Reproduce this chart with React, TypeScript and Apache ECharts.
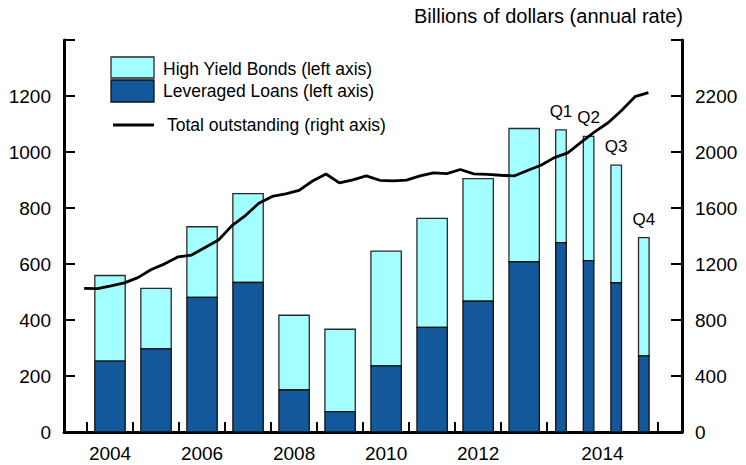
import React, { useEffect, useRef } from "react";
import * as echarts from "echarts";

// ---------- Data ----------
const years = ["2004", "2005", "2006", "2007", "2008", "2009", "2010", "2011", "2012", "2013"];
const annualLeveragedLoans = [253, 297, 481, 534, 150, 73, 236, 374, 467, 608];
const annualHighYieldBonds = [306, 216, 252, 317, 267, 294, 410, 389, 438, 476];

const quarters2014 = ["Q1", "Q2", "Q3", "Q4"];
const quarterLeveragedLoans = [676, 612, 533, 272];
const quarterHighYieldBonds = [403, 444, 420, 422];

// Total outstanding, quarterly 2004Q1 .. 2014Q3 (right axis)
const totalOutstanding = [
  1026, 1024, 1044, 1065, 1103, 1161, 1201, 1251, 1264, 1318, 1372, 1474,
  1546, 1634, 1683, 1701, 1726, 1793, 1843, 1779, 1801, 1829, 1798, 1794,
  1799, 1829, 1851, 1846, 1875, 1844, 1840, 1834, 1829, 1868, 1905, 1960,
  1994, 2071, 2144, 2209, 2297, 2395, 2424,
];

const xTickLabels = ["2004", "2006", "2008", "2010", "2012", "2014"];
const leftTickLabels = ["0", "200", "400", "600", "800", "1000", "1200", ""];
const rightTickLabels = ["0", "400", "800", "1200", "1600", "2000", "2200", ""];

// ---------- Layout (axis units: one annual slot = 1) ----------
const LEAD = 0.5;          // space before the first year
const QUARTER_SLOT = 0.6;  // width of a quarter slot in 2014
const X_MAX = 13.43;
const ANNUAL_BAR_W = 0.66;
const QUARTER_BAR_W = 0.23;

const HY_COLOR = "#A3FFFF";
const LL_COLOR = "#14589C";
const FONT = "Liberation Sans, Arial, sans-serif";

export default function App() {
  const ref = useRef<HTMLDivElement>(null);

  useEffect(() => {
    if (!ref.current) return;
    const chart = echarts.init(ref.current, undefined, { renderer: "svg" });

    const quarterStart = LEAD + years.length;
    const barData: any[] = [];
    years.forEach((y, i) => {
      barData.push([LEAD + i + 0.5, annualLeveragedLoans[i], annualHighYieldBonds[i], 0, ""]);
    });
    quarters2014.forEach((q, i) => {
      barData.push([
        quarterStart + (i + 0.5) * QUARTER_SLOT,
        quarterLeveragedLoans[i],
        quarterHighYieldBonds[i],
        1,
        q,
      ]);
    });

    const quarterEnd = quarterStart + quarters2014.length * QUARTER_SLOT;
    const tickValues: number[] = [];
    for (let i = 0; i <= years.length; i++) tickValues.push(LEAD + i);
    tickValues.push(quarterEnd);

    const labelPositions: number[] = [];
    for (let i = 0; i < years.length; i += 2) labelPositions.push(LEAD + i + 0.5);
    labelPositions.push((quarterStart + quarterEnd) / 2);

    const lineData = totalOutstanding.map((v, i) => [i, v]);

    const option: any = {
      animation: false,
      backgroundColor: "#ffffff",
      textStyle: { fontFamily: FONT },
      grid: { left: 64, right: 64, top: 40, bottom: 33 },
      xAxis: [
        {
          type: "value",
          min: 0,
          max: X_MAX,
          position: "bottom",
          axisLine: { show: true, onZero: false, lineStyle: { color: "#000", width: 3 } },
          axisTick: {
            show: true,
            inside: true,
            length: 10,
            customValues: tickValues,
            lineStyle: { color: "#000", width: 2 },
          },
          axisLabel: {
            show: true,
            customValues: labelPositions,
            margin: 12,
            fontSize: 19,
            color: "#000",
            fontFamily: FONT,
            formatter: (v: number) => {
              let best = 0;
              labelPositions.forEach((p, i) => {
                if (Math.abs(p - v) < Math.abs(labelPositions[best] - v)) best = i;
              });
              return xTickLabels[best];
            },
          },
          splitLine: { show: false },
        },
        {
          type: "value",
          min: -1.5,
          max: 44.5,
          show: false,
          axisLine: { show: false, onZero: false },
        },
      ],
      yAxis: [
        {
          type: "value",
          position: "left",
          min: 0,
          max: 1400,
          interval: 200,
          axisLine: { show: true, onZero: false, lineStyle: { color: "#000", width: 3 } },
          axisTick: { show: true, inside: true, length: 11, lineStyle: { color: "#000", width: 2 } },
          axisLabel: {
            margin: 13,
            fontSize: 19,
            color: "#000",
            fontFamily: FONT,
            formatter: (v: number) => leftTickLabels[Math.round(v / 200)] ?? "",
          },
          splitLine: { show: false },
        },
        {
          type: "value",
          position: "right",
          min: 0,
          max: 2800,
          interval: 400,
          axisLine: { show: true, onZero: false, lineStyle: { color: "#000", width: 3 } },
          axisTick: { show: true, inside: true, length: 11, lineStyle: { color: "#000", width: 2 } },
          axisLabel: {
            margin: 13,
            fontSize: 19,
            color: "#000",
            fontFamily: FONT,
            formatter: (v: number) => rightTickLabels[Math.round(v / 400)] ?? "",
          },
          splitLine: { show: false },
        },
      ],
      series: [
        {
          type: "custom",
          name: "Issuance",
          xAxisIndex: 0,
          yAxisIndex: 0,
          clip: false,
          data: barData,
          renderItem: (params: any, api: any) => {
            const x = api.value(0);
            const ll = api.value(1);
            const hy = api.value(2);
            const isQuarter = api.value(3) === 1;
            const label = barData[params.dataIndex][4];
            const w = api.size([isQuarter ? QUARTER_BAR_W : ANNUAL_BAR_W, 0])[0];
            const p0 = api.coord([x, 0]);
            const p1 = api.coord([x, ll]);
            const p2 = api.coord([x, ll + hy]);
            const children: any[] = [
              {
                type: "rect",
                shape: { x: p0[0] - w / 2, y: p2[1], width: w, height: p1[1] - p2[1] },
                style: { fill: HY_COLOR, stroke: "#2a2a2a", lineWidth: 1.3 },
              },
              {
                type: "rect",
                shape: { x: p0[0] - w / 2, y: p1[1], width: w, height: p0[1] - p1[1] },
                style: { fill: LL_COLOR, stroke: "#111", lineWidth: 1.3 },
              },
            ];
            if (label) {
              children.push({
                type: "text",
                x: p0[0],
                y: p2[1] - 10,
                style: {
                  text: label,
                  fill: "#000",
                  fontSize: 17,
                  fontFamily: FONT,
                  align: "center",
                  verticalAlign: "bottom",
                },
              });
            }
            return { type: "group", children };
          },
          z: 2,
        },
        {
          type: "line",
          name: "Total outstanding (right axis)",
          xAxisIndex: 1,
          yAxisIndex: 1,
          data: lineData,
          showSymbol: false,
          symbol: "none",
          lineStyle: { color: "#000", width: 2.8 },
          z: 5,
        },
      ],
      graphic: [
        {
          type: "text",
          right: 63,
          top: 6,
          style: {
            text: "Billions of dollars (annual rate)",
            fill: "#000",
            fontSize: 20,
            fontFamily: FONT,
          },
        },
        {
          type: "rect",
          shape: { x: 111, y: 57, width: 43, height: 21 },
          style: { fill: HY_COLOR, stroke: "#2a2a2a", lineWidth: 1.3 },
        },
        {
          type: "rect",
          shape: { x: 111, y: 80, width: 43, height: 22 },
          style: { fill: LL_COLOR, stroke: "#111", lineWidth: 1.3 },
        },
        {
          type: "line",
          shape: { x1: 113, y1: 125, x2: 154, y2: 125 },
          style: { stroke: "#000", lineWidth: 2.8 },
        },
        {
          type: "text",
          x: 163,
          y: 69,
          style: {
            text: "High Yield Bonds (left axis)",
            fill: "#000",
            fontSize: 17.5,
            fontFamily: FONT,
            verticalAlign: "middle",
          },
        },
        {
          type: "text",
          x: 163,
          y: 91,
          style: {
            text: "Leveraged Loans (left axis)",
            fill: "#000",
            fontSize: 17.5,
            fontFamily: FONT,
            verticalAlign: "middle",
          },
        },
        {
          type: "text",
          x: 167,
          y: 125,
          style: {
            text: "Total outstanding (right axis)",
            fill: "#000",
            fontSize: 17.5,
            fontFamily: FONT,
            verticalAlign: "middle",
          },
        },
      ],
    };

    chart.setOption(option);
    return () => chart.dispose();
  }, []);

  return (
    <div
      ref={ref}
      style={{ position: "fixed", left: 0, top: 0, width: 746, height: 465, background: "#fff" }}
    />
  );
}
